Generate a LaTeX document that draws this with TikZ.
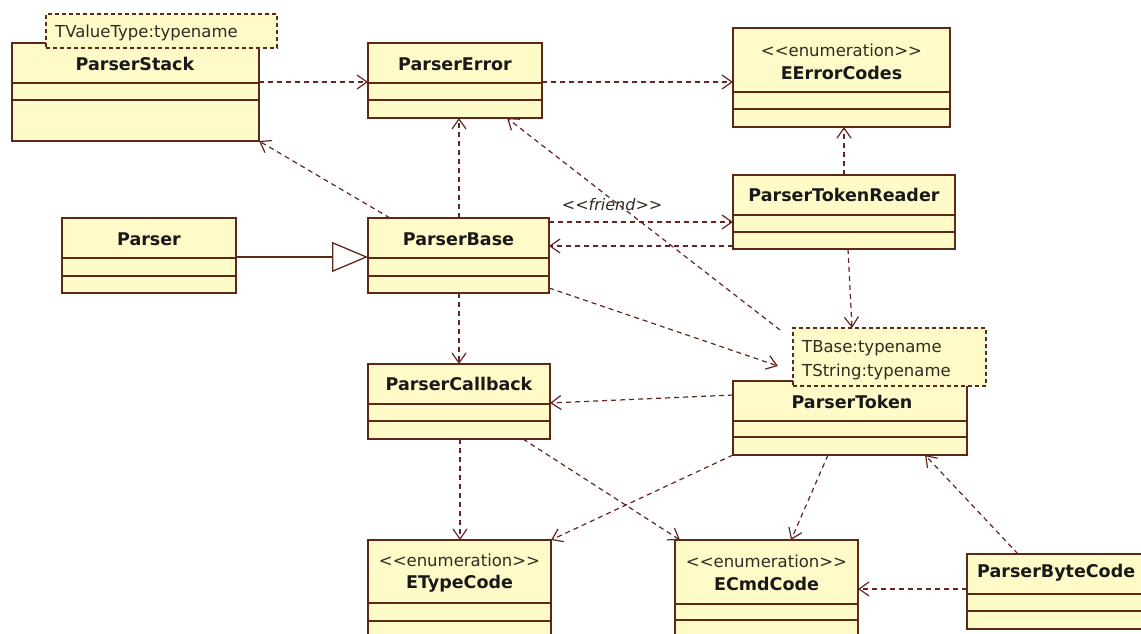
\documentclass[tikz,border=0pt]{standalone}
\usepackage{fontspec}
\setmainfont{DejaVu Sans}
\usetikzlibrary{fit,arrows.meta}
\definecolor{clsfill}{RGB}{255,251,200}
\definecolor{clsborder}{RGB}{92,40,24}
\definecolor{depcol}{RGB}{100,36,36}
\definecolor{txtcol}{RGB}{25,25,25}
\definecolor{tpltxt}{RGB}{45,45,35}
\newcommand\bfname{\fontsize{17.5pt}{21pt}\selectfont\bfseries}
\newcommand\regtext{\fontsize{16.5pt}{23.5pt}\selectfont}
\newcommand\itlabel{\fontsize{16pt}{19pt}\selectfont\itshape}
\newcommand\stopen{<\kern0pt<}
\newcommand\stclose{>\kern0pt>}
\newcommand\umlclass[7]{%
  \node[clsbox, fit={(#2,#3)(#4,#5)}] (#1) {};
  \draw[clsline] (#1.west |- 0,#6) -- (#1.east |- 0,#6);
  \draw[clsline] (#1.west |- 0,#7) -- (#1.east |- 0,#7);
}
\tikzset{
  clsbox/.style={draw=clsborder, fill=clsfill, line width=1.8pt, inner sep=0pt, outer sep=0pt},
  clsline/.style={draw=clsborder, line width=1.4pt},
  tplbox/.style={draw=clsborder, fill=clsfill, line width=1.3pt, dash pattern=on 4pt off 3pt, inner sep=0pt, outer sep=0pt},
  nametext/.style={font=\bfname, text=txtcol, inner sep=0pt},
  stereotext/.style={font=\regtext, text=tpltxt, inner sep=0pt},
  tpltext/.style={font=\regtext, text=tpltxt, inner sep=0pt, align=left, anchor=west},
  dep/.style={draw=depcol, line width=1.2pt, dash pattern=on 5pt off 4pt,
    -{Straight Barb[length=10pt,width=14pt]}},
  gen/.style={draw=clsborder, line width=1.3pt,
    -{Triangle[length=36pt,width=30pt,fill=white,line width=1.3pt]}},
  friendlabel/.style={font=\itlabel, text=tpltxt, inner sep=0pt}
}
\begin{document}
\begin{tikzpicture}[x=1pt,y=-1pt]
\useasboundingbox (0,0) rectangle (1141,634);
\fill[white] (0,0) rectangle (1141,634);
\clip (0,0) rectangle (1141,634);

% classes
\umlclass{ps}{12}{43}{259}{141}{83}{100}
\node[tplbox, fit={(46,14)(277,48)}] (pstpl) {};
\node[tpltext] (pstplt) at (55,33) {TValueType:typename};
\node[nametext] (pst) at (135,64) {ParserStack};

\umlclass{pe}{368}{43}{542}{118}{83}{100}
\node[nametext] (pet) at (455,64) {ParserError};

\umlclass{eec}{733}{28}{950}{127}{92}{109}
\node[stereotext] (eecs) at (841.5,50) {\stopen enumeration\stclose};
\node[nametext] (eect) at (841.5,73) {EErrorCodes};

\umlclass{p}{62}{218}{236}{293}{258}{276}
\node[nametext] (pt0) at (149,239) {Parser};

\umlclass{pb}{368}{218}{549}{293}{258}{276}
\node[nametext] (pbt) at (458.5,239) {ParserBase};

\umlclass{ptr}{733}{175}{955}{249}{215}{232}
\node[nametext] (ptrt) at (844,195) {ParserTokenReader};

\umlclass{pc}{368}{364}{550}{439}{404}{421}
\node[nametext] (pct) at (459,384) {ParserCallback};

\umlclass{pt}{733}{381}{967}{455}{421}{437}
\node[tplbox, fit={(793,328)(986,386)}] (pttpl) {};
\node[tpltext] (pttplt) at (802,360) {TBase:typename\\TString:typename};
\node[nametext] (ptt) at (852,402) {ParserToken};

\umlclass{etc}{368}{540}{551}{660}{603}{621}
\node[stereotext] (etcs) at (459.5,560) {\stopen enumeration\stclose};
\node[nametext] (etct) at (459.5,584) {ETypeCode};

\umlclass{ecc}{675}{540}{858}{660}{604}{620}
\node[stereotext] (eccs) at (766.5,561) {\stopen enumeration\stclose};
\node[nametext] (ecct) at (766.5,584) {ECmdCode};

\umlclass{pbc}{967}{554}{1170}{629}{594}{611}
\node[nametext, anchor=west] (pbct) at (977,573) {ParserByteCode};

% free ends
\coordinate (ptfriend) at (780,330);
\coordinate (ptin) at (778,366);

% generalization
\draw[gen] (p.east |- 0,257) -- (pb.west |- 0,257);

% dependencies
\draw[dep] (ps.east |- 0,82) -- (pe.west |- 0,82);
\draw[dep] (pe.east |- 0,82) -- (eec.west |- 0,82);
\draw[dep] (pb.north -| 390,0) -- (ps.south east);
\draw[dep] (pb.north -| 459,0) -- (pe.south -| 459,0);
\draw[dep] (ptfriend) -- (pe.south -| 507,0)
  node[friendlabel, pos=0.615, yshift=-5pt] (friend) {\stopen friend\stclose};
\draw[dep] (pb.east |- 0,222) -- (ptr.west |- 0,222);
\draw[dep] (ptr.west |- 0,246) -- (pb.east |- 0,246);
\draw[dep] (ptr.north -| 844,0) -- (eec.south -| 844,0);
\draw[dep] (ptr.south -| 848,0) -- (pttpl.north -| 852,0);
\draw[dep] (pb.east |- 0,288) -- (ptin);
\draw[dep] (pb.south -| 459,0) -- (pc.north -| 459,0);
\draw[dep] (pt.west |- 0,395) -- (pc.east |- 0,403);
\draw[dep] (pc.south -| 460,0) -- (etc.north -| 460,0);
\draw[dep] (pc.south -| 523,0) -- (ecc.north -| 680,0);
\draw[dep] (pt.south west) -- (etc.north east);
\draw[dep] (pt.south -| 828,0) -- (ecc.north -| 791,0);
\draw[dep] (pbc.north -| 1018,0) -- (pt.south -| 925,0);
\draw[dep] (pbc.west |- 0,589) -- (ecc.east |- 0,589);
\end{tikzpicture}
\end{document}
